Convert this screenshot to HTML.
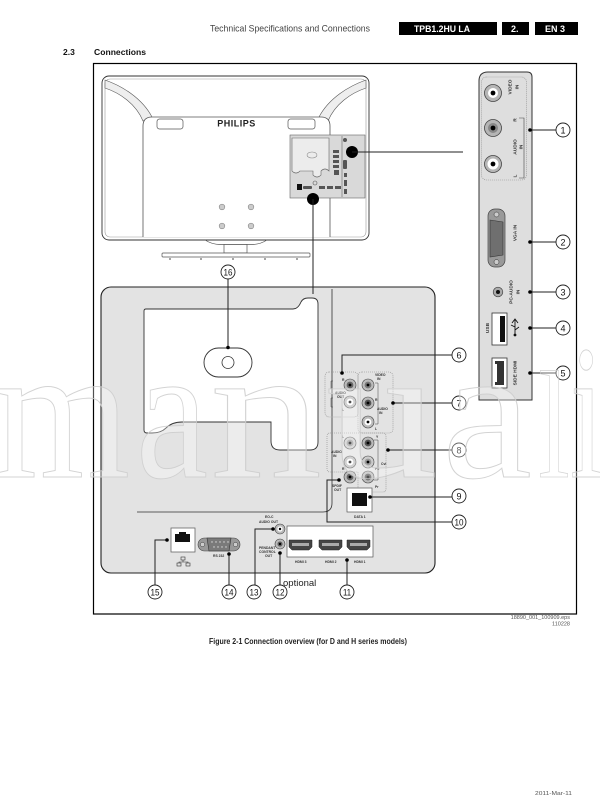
<!DOCTYPE html>
<html><head><meta charset="utf-8"><style>
html,body{margin:0;padding:0;background:#fff;width:600px;height:806px;overflow:hidden}
svg{display:block}
.n{font-family:"Liberation Sans Narrow","Liberation Sans",sans-serif;font-size:9px;fill:#111;text-anchor:middle}
.t{font-family:"Liberation Sans",sans-serif;font-size:3.4px;fill:#333;font-weight:bold}
</style></head><body>
<svg width="600" height="806" viewBox="0 0 600 806" font-family="'Liberation Sans', Arial, sans-serif">
<!-- header -->
<text x="210" y="31.5" font-size="9.5" fill="#444" textLength="160" lengthAdjust="spacingAndGlyphs">Technical Specifications and Connections</text>
<rect x="399" y="22" width="98" height="13" fill="#000"/>
<text x="414" y="31.8" font-size="9" font-weight="bold" fill="#fff" textLength="56" lengthAdjust="spacingAndGlyphs">TPB1.2HU LA</text>
<rect x="502" y="22" width="27" height="13" fill="#000"/>
<text x="511" y="31.8" font-size="9" font-weight="bold" fill="#fff">2.</text>
<rect x="535" y="22" width="43" height="13" fill="#000"/>
<text x="545" y="31.8" font-size="9" font-weight="bold" fill="#fff">EN 3</text>
<text x="63" y="55" font-size="8.5" font-weight="bold" fill="#111">2.3</text>
<text x="94" y="55" font-size="8.5" font-weight="bold" fill="#111" textLength="52" lengthAdjust="spacingAndGlyphs">Connections</text>

<!-- frame -->
<rect x="93.5" y="63.5" width="483" height="550.5" fill="none" stroke="#000" stroke-width="1.2"/>

<!-- TV -->
<rect x="102" y="76" width="267" height="164" rx="7" fill="#fff" stroke="#333" stroke-width="0.9"/>
<rect x="105" y="79" width="261" height="158" rx="5" fill="none" stroke="#999" stroke-width="0.6"/>
<path d="M105,80 C122,86 142,98 152,117 L143,121 C136,104 120,93 105,88 Z" fill="#eee" stroke="#555" stroke-width="0.6"/>
<path d="M366,80 C349,86 329,98 319,117 L328,121 C335,104 351,93 366,88 Z" fill="#eee" stroke="#555" stroke-width="0.6"/>
<path d="M143,237 V126 Q143,117 152,117 H321 Q330,117 330,126 V237" fill="#fff" stroke="#555" stroke-width="0.8"/>
<rect x="157" y="119" width="26" height="10" rx="2.5" fill="#fff" stroke="#555" stroke-width="0.7"/>
<rect x="288" y="119" width="27" height="10" rx="2.5" fill="#fff" stroke="#555" stroke-width="0.7"/>
<text x="236.5" y="126.5" font-size="9" font-weight="bold" text-anchor="middle" fill="#222" letter-spacing="0.5">PHILIPS</text>
<g fill="#ccc" stroke="#888" stroke-width="0.6">
<circle cx="222" cy="207" r="2.8"/><circle cx="251" cy="207" r="2.8"/>
<circle cx="222" cy="226" r="2.8"/><circle cx="251" cy="226" r="2.8"/>
</g>
<!-- TV connector area -->
<rect x="290" y="135" width="75" height="63" fill="#d9d9d9" stroke="#666" stroke-width="0.6"/>
<path d="M292,138 H329 V171 Q325,167 321,171 V175 Q317,179 313,175 V171 H300 Q296,175 292,171 Z" fill="#ececec" stroke="#666" stroke-width="0.6"/>
<ellipse cx="312" cy="155" rx="5" ry="3" fill="none" stroke="#888" stroke-width="0.6"/>
<line x1="342" y1="136" x2="342" y2="197" stroke="#666" stroke-width="0.6"/>
<g fill="#555">
<rect x="333" y="150" width="6" height="3"/><rect x="333" y="155" width="6" height="3"/><rect x="333" y="160" width="6" height="3"/><rect x="333" y="165" width="6" height="3"/><rect x="334" y="170" width="5" height="5"/>
<circle cx="345" cy="140" r="2"/><rect x="343" y="160" width="4" height="9" rx="1"/><rect x="344" y="173" width="3" height="4"/><rect x="344" y="180" width="3" height="6"/><rect x="344" y="189" width="3" height="5"/>
<rect x="297" y="184" width="5" height="6" fill="#111"/><rect x="303" y="186" width="9" height="3" rx="1"/>
<rect x="319" y="186" width="6" height="3"/><rect x="327" y="186" width="6" height="3"/><rect x="335" y="186" width="6" height="3"/>
</g>
<circle cx="315" cy="183" r="2" fill="none" stroke="#555" stroke-width="0.6"/>
<circle cx="352" cy="152" r="6" fill="#000"/>
<circle cx="313" cy="199" r="6" fill="#000"/>
<line x1="352" y1="152" x2="463" y2="152" stroke="#222" stroke-width="1"/>
<!-- stand -->
<path d="M205,240 Q212,244.5 220,244.5 H252 Q260,244.5 267,240" fill="none" stroke="#555" stroke-width="0.7"/>
<rect x="224" y="244.5" width="23" height="8.5" fill="#fff" stroke="#555" stroke-width="0.7"/>
<rect x="162" y="253" width="148" height="4" rx="1" fill="#fff" stroke="#555" stroke-width="0.7"/>
<g fill="#888"><circle cx="170" cy="259" r="1"/><circle cx="201" cy="259" r="1"/><circle cx="233" cy="259" r="1"/><circle cx="265" cy="259" r="1"/><circle cx="297" cy="259" r="1"/></g>

<!-- right side panel -->
<path d="M479,400 V81 Q479,72 488,72 H527 Q532,72 532,77 V400 Z" fill="#dedede" stroke="#333" stroke-width="1"/>
<rect x="481.5" y="77" width="45" height="103" rx="5" fill="none" stroke="#888" stroke-width="0.6" stroke-dasharray="1,1"/>
<circle cx="493" cy="93" r="8.5" fill="#b5b5b5" stroke="#444" stroke-width="0.8"/><circle cx="493" cy="93" r="5" fill="#fff"/><circle cx="493" cy="93" r="2.4" fill="#000"/>
<circle cx="493" cy="128" r="8.5" fill="#b5b5b5" stroke="#444" stroke-width="0.8"/><circle cx="493" cy="128" r="5" fill="#888"/><circle cx="493" cy="128" r="2.4" fill="#000"/>
<circle cx="493" cy="164" r="8.5" fill="#b5b5b5" stroke="#444" stroke-width="0.8"/><circle cx="493" cy="164" r="5.5" fill="#fff"/><circle cx="493" cy="164" r="2.4" fill="#000"/>
<g font-size="4.8" font-weight="bold" fill="#333" text-anchor="middle">
<text transform="translate(511.5,87) rotate(-90)">VIDEO</text>
<text transform="translate(518.5,87) rotate(-90)">IN</text>
<text transform="translate(516.5,120) rotate(-90)">R</text>
<text transform="translate(516.5,147) rotate(-90)">AUDIO</text>
<text transform="translate(522.5,147) rotate(-90)">IN</text>
<text transform="translate(516.5,176) rotate(-90)">L</text>
<text transform="translate(516.5,233) rotate(-90)">VGA IN</text>
<text transform="translate(512.5,292) rotate(-90)">PC-AUDIO</text>
<text transform="translate(519.5,292) rotate(-90)">IN</text>
<text transform="translate(489,328) rotate(-90)">USB</text>
<text transform="translate(516.5,373) rotate(-90)">SIDE HDMI</text>
</g>
<path d="M519,118 H524 V178 H519" fill="none" stroke="#444" stroke-width="0.6"/>
<rect x="488" y="209" width="17" height="58" rx="7" fill="#999" stroke="#444" stroke-width="0.7"/>
<path d="M490,220 L503,222 L503,255 L490,257 Z" fill="#6f6f6f" stroke="#333" stroke-width="0.6"/>
<circle cx="496.5" cy="214.5" r="2.5" fill="#ccc" stroke="#333" stroke-width="0.5"/>
<circle cx="496.5" cy="262" r="2.5" fill="#ccc" stroke="#333" stroke-width="0.5"/>
<circle cx="498" cy="292" r="4.8" fill="#aaa" stroke="#444" stroke-width="0.7"/><circle cx="498" cy="292" r="2" fill="#111"/>
<rect x="492" y="313" width="15" height="32" fill="#fff" stroke="#333" stroke-width="0.8"/>
<rect x="500" y="316" width="5" height="26" fill="#111"/>
<path d="M515,334 V320 M512,323 L515,319 L518,323 M515,330 L519,327 M515,327 L511,325" stroke="#111" stroke-width="0.9" fill="none"/>
<circle cx="515" cy="335" r="1.4" fill="#111"/>
<rect x="492" y="358" width="15" height="30" fill="#fff" stroke="#333" stroke-width="0.8"/>
<path d="M495,361 H504 V385 H495 V382 H497 V364 H495 Z" fill="#333"/>
<g stroke="#222" stroke-width="1">
<line x1="530" y1="130" x2="556" y2="130"/><line x1="530" y1="242" x2="556" y2="242"/>
<line x1="530" y1="292" x2="556" y2="292"/><line x1="530" y1="328" x2="556" y2="328"/>
<line x1="530" y1="373" x2="556" y2="373"/>
</g>
<g fill="#000"><circle cx="530" cy="130" r="1.8"/><circle cx="530" cy="242" r="1.8"/><circle cx="530" cy="292" r="1.8"/><circle cx="530" cy="328" r="1.8"/><circle cx="530" cy="373" r="1.8"/></g>

<!-- bottom panel -->
<rect x="101" y="287" width="334" height="286" rx="10" fill="#e3e3e3" stroke="#222" stroke-width="1.1"/>
<path d="M144,311 Q144,309 146,309 H293 Q298,309 301,302 Q303,298 308,298 H312 Q318,298 318,304 V442 Q318,450 310,450 H280 Q271,450 271,441 V422 H182 Q172,422 166,428 Q161,433 152,433 H147 Q144,433 144,430 Z" fill="#fff" stroke="#333" stroke-width="0.9"/>
<rect x="204" y="348" width="48" height="29" rx="14.5" fill="#fff" stroke="#333" stroke-width="0.9"/>
<circle cx="228" cy="362.5" r="6" fill="#fff" stroke="#333" stroke-width="0.8"/>
<path d="M332,289 V503 Q332,512 323,512 H137" fill="none" stroke="#333" stroke-width="0.8"/>
<line x1="313" y1="199" x2="313" y2="294" stroke="#222" stroke-width="1"/>
<line x1="228" y1="279" x2="228" y2="347" stroke="#222" stroke-width="1"/>
<circle cx="228" cy="347.5" r="1.8" fill="#000"/>

<!-- dashed groups -->
<g fill="none" stroke="#888" stroke-width="0.6" stroke-dasharray="1,1">
<rect x="325" y="372" width="33" height="45" rx="4"/>
<rect x="358" y="372" width="35" height="61" rx="4"/>
<path d="M330,433 H383 Q386,433 386,436 V489 Q386,492 383,492 H361 Q358,492 358,489 V472 H330 Q327,472 327,469 V436 Q327,433 330,433 Z"/>
</g>
<g stroke="#444" stroke-width="0.6">
<circle cx="350" cy="385" r="6" fill="#bbb"/><circle cx="350" cy="402" r="6" fill="#bbb"/>
<circle cx="368" cy="385" r="6" fill="#bbb"/><circle cx="368" cy="403" r="6" fill="#bbb"/><circle cx="368" cy="422" r="6" fill="#bbb"/>
<circle cx="350" cy="443" r="6" fill="#ccc"/><circle cx="368" cy="443" r="6" fill="#bbb"/>
<circle cx="350" cy="462" r="6" fill="#bbb"/><circle cx="368" cy="462" r="6" fill="#ccc"/>
<circle cx="350" cy="477" r="6" fill="#bbb"/><circle cx="368" cy="477" r="6" fill="#bbb"/>
</g>
<g>
<circle cx="350" cy="385" r="3.4" fill="#666"/><circle cx="350" cy="402" r="3.4" fill="#fff"/>
<circle cx="368" cy="385" r="3.4" fill="#777"/><circle cx="368" cy="403" r="3.4" fill="#555"/><circle cx="368" cy="422" r="3.4" fill="#fff"/>
<circle cx="350" cy="443" r="3.4" fill="#999"/><circle cx="368" cy="443" r="3.4" fill="#555"/>
<circle cx="350" cy="462" r="3.4" fill="#fff"/><circle cx="368" cy="462" r="3.4" fill="#999"/>
<circle cx="350" cy="477" r="3.4" fill="#666"/><circle cx="368" cy="477" r="3.4" fill="#555"/>
</g>
<g fill="#000">
<circle cx="350" cy="385" r="1.4"/><circle cx="350" cy="402" r="1.4"/><circle cx="368" cy="385" r="1.4"/><circle cx="368" cy="403" r="1.4"/><circle cx="368" cy="422" r="1.4"/>
<circle cx="350" cy="443" r="1.4"/><circle cx="368" cy="443" r="1.4"/><circle cx="350" cy="462" r="1.4"/><circle cx="368" cy="462" r="1.4"/><circle cx="350" cy="477" r="1.4"/><circle cx="368" cy="477" r="1.4"/>
</g>
<g class="t">
<text x="335" y="394">AUDIO</text><text x="337" y="398">OUT</text>
<text x="342" y="381">R</text><text x="342" y="411">L</text>
<text x="375" y="376">VIDEO</text><text x="377" y="380">IN</text>
<text x="375" y="401">R</text><text x="377" y="410">AUDIO</text><text x="379" y="414">IN</text><text x="375" y="430">L</text>
<text x="331" y="453">AUDIO</text><text x="333" y="457">IN</text><text x="342" y="438">L</text><text x="342" y="470">R</text>
<text x="376" y="438">Y</text><text x="381" y="465">Cvi</text><text x="375" y="470">Pb</text><text x="375" y="488">Pr</text>
<text x="332" y="487">SPDIF</text><text x="334" y="491">OUT</text>
<text x="354" y="518">DATA 1</text>
</g>
<path d="M333,381 H331 V389 H333 M333,398 H331 V407 H333" fill="none" stroke="#444" stroke-width="0.5"/>
<path d="M375,383 H378 V424 H375 M374,440 H378 V480 H374" fill="none" stroke="#444" stroke-width="0.5"/>
<rect x="347" y="488" width="25" height="24" fill="#fff" stroke="#555" stroke-width="0.7"/>
<rect x="352" y="493" width="15" height="13" fill="#111"/>

<!-- bottom connectors -->
<rect x="171" y="528" width="24" height="24" fill="#fff" stroke="#666" stroke-width="0.8"/>
<path d="M175,534 H179 V532 H186 V534 H190 V542 H175 Z" fill="#111"/>
<g fill="none" stroke="#333" stroke-width="0.6"><rect x="181" y="557" width="4" height="3"/><rect x="177" y="563" width="4" height="3"/><rect x="186" y="563" width="4" height="3"/><path d="M183,560 V562 M179,563 V562 H188 V563"/></g>
<rect x="198" y="538" width="42" height="13" rx="6.5" fill="#999" stroke="#444" stroke-width="0.6"/>
<path d="M207,538 H231 L229,551 H209 Z" fill="#7a7a7a" stroke="#333" stroke-width="0.6"/>
<circle cx="202.5" cy="544.5" r="2.3" fill="#ccc" stroke="#333" stroke-width="0.5"/>
<circle cx="235.5" cy="544.5" r="2.3" fill="#ccc" stroke="#333" stroke-width="0.5"/>
<g fill="#ddd"><circle cx="212" cy="542" r="0.7"/><circle cx="216" cy="542" r="0.7"/><circle cx="220" cy="542" r="0.7"/><circle cx="224" cy="542" r="0.7"/><circle cx="228" cy="542" r="0.7"/><circle cx="214" cy="547" r="0.7"/><circle cx="218" cy="547" r="0.7"/><circle cx="222" cy="547" r="0.7"/><circle cx="226" cy="547" r="0.7"/></g>
<text class="t" x="213" y="557">RS 232</text>
<circle cx="280" cy="529" r="5" fill="#bbb" stroke="#444" stroke-width="0.6"/><circle cx="280" cy="529" r="2.6" fill="#fff"/><circle cx="280" cy="529" r="1.2" fill="#000"/>
<circle cx="280" cy="544" r="5" fill="#bbb" stroke="#444" stroke-width="0.6"/><circle cx="280" cy="544" r="2.6" fill="#666"/><circle cx="280" cy="544" r="1.2" fill="#000"/>
<g class="t"><text x="265" y="518">EO-C</text><text x="259" y="523">AUDIO OUT</text>
<text x="259" y="549">PENDANT</text><text x="259" y="553">CONTROL</text><text x="265" y="557">OUT</text></g>
<rect x="287" y="526" width="86" height="31" fill="#fff" stroke="#555" stroke-width="0.7"/>
<g fill="#444" stroke="#222" stroke-width="0.5">
<path d="M289,540 H312 V547 L309,550 H292 L289,547 Z"/>
<path d="M319,540 H342 V547 L339,550 H322 L319,547 Z"/>
<path d="M347,540 H370 V547 L367,550 H350 L347,547 Z"/>
</g>
<g fill="#aaa">
<rect x="292" y="543" width="17" height="3"/><rect x="322" y="543" width="17" height="3"/><rect x="350" y="543" width="17" height="3"/>
</g>
<g class="t" font-weight="normal"><text x="295" y="563">HDMI 3</text><text x="325" y="563">HDMI 2</text><text x="354" y="563">HDMI 1</text></g>

<!-- leader lines -->
<g stroke="#222" stroke-width="1" fill="none">
<path d="M342,373 V355 H452"/>
<path d="M393,403 H452"/>
<path d="M388,450 H452"/>
<path d="M370,497 H452"/>
<path d="M339,480 H327 V522 H452"/>
<path d="M167,540 H155 V585"/>
<path d="M229,554 V585"/>
<path d="M273,529 H255 V585"/>
<path d="M280,553 V585"/>
<path d="M347,560 V585"/>
</g>
<g fill="#000">
<circle cx="342" cy="373" r="1.8"/><circle cx="393" cy="403" r="1.8"/><circle cx="388" cy="450" r="1.8"/><circle cx="370" cy="497" r="1.8"/><circle cx="339" cy="480" r="1.8"/>
<circle cx="167" cy="540" r="1.8"/><circle cx="229" cy="554" r="1.8"/><circle cx="273" cy="529" r="1.8"/><circle cx="280" cy="553" r="1.8"/><circle cx="347" cy="560" r="1.8"/>
</g>
<text x="283" y="586" font-size="9.5" fill="#222">optional</text>

<!-- number circles -->
<g fill="#fff" stroke="#222" stroke-width="0.9">
<circle cx="563" cy="130" r="7"/><circle cx="563" cy="242" r="7"/><circle cx="563" cy="292" r="7"/><circle cx="563" cy="328" r="7"/><circle cx="563" cy="373" r="7"/>
<circle cx="459" cy="355" r="7"/><circle cx="459" cy="403" r="7"/><circle cx="459" cy="450" r="7"/><circle cx="459" cy="496" r="7"/><circle cx="459" cy="522" r="7"/>
<circle cx="347" cy="592" r="7"/><circle cx="280" cy="592" r="7"/><circle cx="254" cy="592" r="7"/><circle cx="229" cy="592" r="7"/><circle cx="155" cy="592" r="7"/>
<circle cx="228" cy="272" r="7"/>
</g>
<g class="n">
<text x="563" y="133.3">1</text><text x="563" y="245.3">2</text><text x="563" y="295.3">3</text><text x="563" y="331.3">4</text><text x="563" y="376.3">5</text>
<text x="459" y="358.3">6</text><text x="459" y="406.3">7</text><text x="459" y="453.3">8</text><text x="459" y="499.3">9</text>
<text x="459" y="525.3" textLength="9" lengthAdjust="spacingAndGlyphs">10</text>
<text x="347" y="595.3" textLength="8" lengthAdjust="spacingAndGlyphs">11</text>
<text x="280" y="595.3" textLength="9" lengthAdjust="spacingAndGlyphs">12</text>
<text x="254" y="595.3" textLength="9" lengthAdjust="spacingAndGlyphs">13</text>
<text x="229" y="595.3" textLength="9" lengthAdjust="spacingAndGlyphs">14</text>
<text x="155" y="595.3" textLength="9" lengthAdjust="spacingAndGlyphs">15</text>
<text x="228" y="275.3" textLength="9" lengthAdjust="spacingAndGlyphs">16</text>
</g>

<!-- footer -->
<text x="570" y="619" font-size="5.5" fill="#555" text-anchor="end">18890_001_100909.eps</text>
<text x="570" y="625.5" font-size="5.5" fill="#555" text-anchor="end">110228</text>
<text x="209" y="644" font-size="8" font-weight="bold" fill="#222" textLength="198" lengthAdjust="spacingAndGlyphs">Figure 2-1 Connection overview (for D and H series models)</text>
<text x="535" y="795" font-size="5.5" fill="#555" textLength="37" lengthAdjust="spacingAndGlyphs">2011-Mar-11</text>

<!-- watermark -->
<g font-family="'Liberation Serif', serif" font-size="192" fill="#fff" fill-opacity="0.35" stroke="#cfcfcf" stroke-width="1" opacity="0.9">
<text x="-6" y="477" textLength="136" lengthAdjust="spacingAndGlyphs">m</text>
<text x="136" y="477" textLength="72" lengthAdjust="spacingAndGlyphs">a</text>
<text x="210" y="477" textLength="112" lengthAdjust="spacingAndGlyphs">n</text>
<text x="326" y="477" textLength="112" lengthAdjust="spacingAndGlyphs">u</text>
<text x="442" y="477" textLength="90" lengthAdjust="spacingAndGlyphs">a</text>
<text transform="translate(538,477) scale(1,0.8)" x="0" y="0" textLength="32" lengthAdjust="spacingAndGlyphs">l</text>
<text x="570" y="477" textLength="34" lengthAdjust="spacingAndGlyphs">i</text>
</g>
</svg>
</body></html>
